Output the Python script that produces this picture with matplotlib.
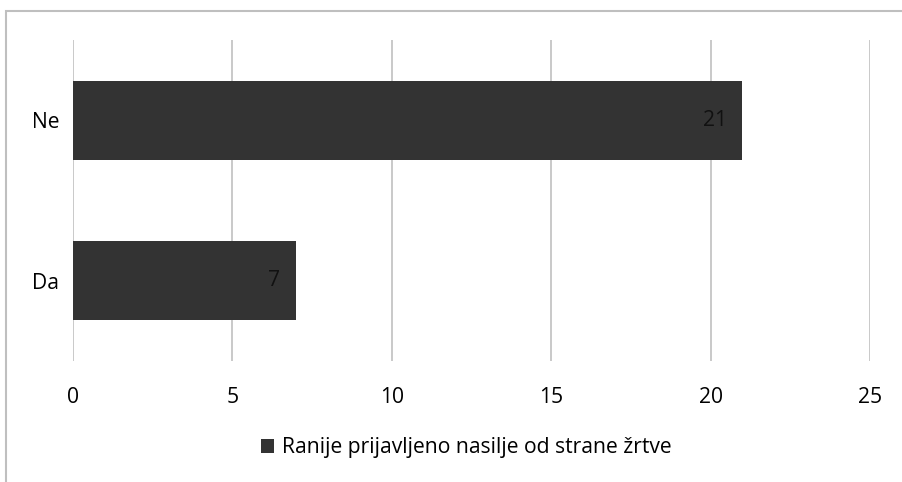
import matplotlib
matplotlib.use("Agg")
import matplotlib.pyplot as plt
from matplotlib.patches import Rectangle

categories = ["Da", "Ne"]
values = [7, 21]
series_name = "Ranije prijavljeno nasilje od strane žrtve"
xticks = [0, 5, 10, 15, 20, 25]

plt.rcParams['font.family'] = ['Open Sans', 'DejaVu Sans']
FS = 15.2

fig = plt.figure(figsize=(9.03, 4.82), dpi=100)
W, H = 903, 482
ax = fig.add_axes([73 / W, 1 - 361 / H, (870 - 73) / W, (361 - 40) / H])

bars = ax.barh(range(len(categories)), values, height=0.495, color="#333333",
               label=series_name, zorder=3)
for i, v in enumerate(values):
    ax.text(v - 0.5, i, str(v), ha="right", va="center", fontsize=FS,
            color="#111111", zorder=4)

ax.set_xlim(0, 25)
ax.set_ylim(-0.5, 1.5)
ax.set_xticks(xticks)
ax.set_xticklabels([str(t) for t in xticks], fontsize=FS)
ax.set_yticks(range(len(categories)))
ax.set_yticklabels(categories, fontsize=FS)
ax.tick_params(axis="x", length=0, pad=19)
ax.tick_params(axis="y", length=0, pad=10)
ax.grid(axis="x", color="#c0c0c0", linewidth=1.2, zorder=0)
for s in ax.spines.values():
    s.set_visible(False)

leg = fig.legend(loc="center", bbox_to_anchor=(466 / W, 1 - 448 / H), frameon=False,
                 fontsize=FS, handlelength=0.65, handleheight=0.65, handletextpad=0.35)

fig.patches.append(Rectangle((6 / W, -0.1), 1.2, 1 - 11 / H + 0.1,
                             transform=fig.transFigure, fill=False,
                             edgecolor="#bfbfbf", linewidth=1.5))

fig.savefig("out.png", dpi=100)
